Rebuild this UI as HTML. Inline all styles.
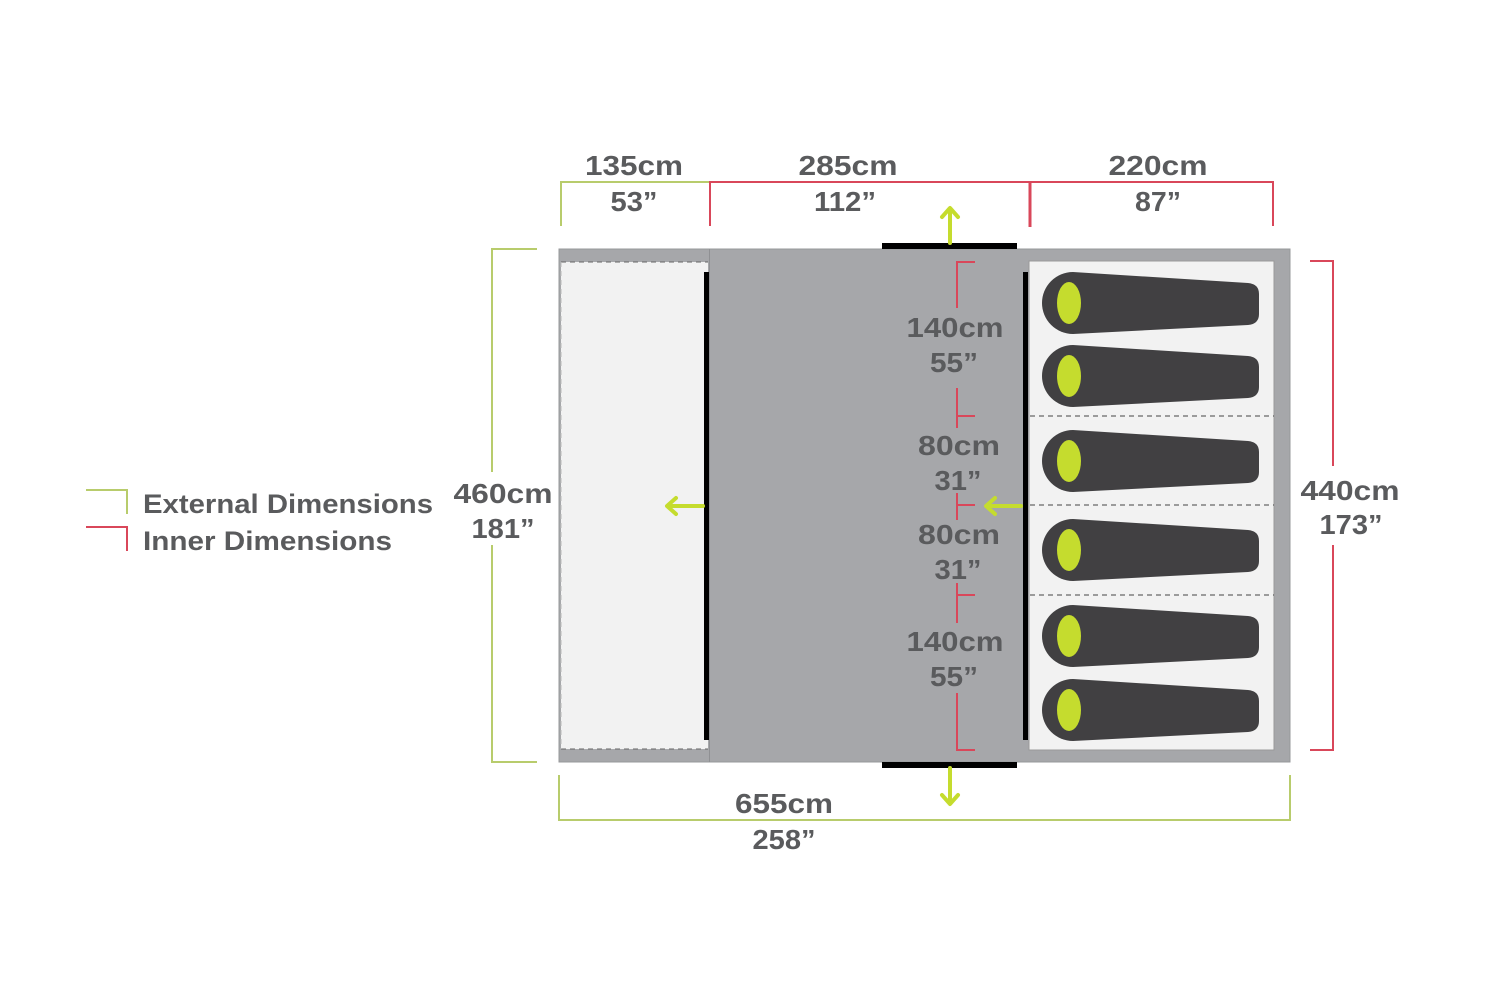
<!DOCTYPE html>
<html><head><meta charset="utf-8"><style>html,body{margin:0;padding:0;background:#fff}svg{display:block}</style></head>
<body>
<svg width="1500" height="1000" viewBox="0 0 1500 1000" xmlns="http://www.w3.org/2000/svg">
<defs>
<g id="bag">
<path d="M1073,272 L1248,283 Q1259,284 1259,294 V314 Q1259,324 1248,325 L1073,334 A31,31 0 0 1 1073,272 Z" fill="#414042"/>
<ellipse cx="1069" cy="303" rx="12" ry="21" fill="#c5dc2e"/>
</g>
</defs>
<rect width="1500" height="1000" fill="#fff"/>
<rect x="559" y="249" width="731" height="513" fill="#a6a7aa" stroke="#97989b" stroke-width="1"/>
<rect x="561" y="262" width="147" height="487" fill="#f2f2f2"/>
<line x1="561" y1="262" x2="708" y2="262" stroke="#666" stroke-dasharray="5,4" stroke-width="1"/>
<line x1="561" y1="749" x2="708" y2="749" stroke="#666" stroke-dasharray="5,4" stroke-width="1"/>
<line x1="561" y1="262" x2="561" y2="749" stroke="#bbb" stroke-dasharray="5,4" stroke-width="1"/>
<line x1="709.5" y1="249" x2="709.5" y2="762" stroke="#8f9093" stroke-width="1"/>
<rect x="1029" y="261" width="245" height="489" fill="#f2f2f2" stroke="#999" stroke-width="1"/>
<g stroke="#444" stroke-dasharray="5,4" stroke-width="1">
<line x1="1030" y1="416" x2="1274" y2="416"/>
<line x1="1030" y1="505" x2="1274" y2="505"/>
<line x1="1030" y1="595" x2="1274" y2="595"/>
</g>
<rect x="704" y="272" width="5" height="468" fill="#000"/>
<rect x="1023" y="272" width="5" height="468" fill="#000"/>
<rect x="882" y="243" width="135" height="6" fill="#000"/>
<rect x="882" y="762" width="135" height="6" fill="#000"/>
<use href="#bag"/>
<use href="#bag" transform="translate(0,73)"/>
<use href="#bag" transform="translate(0,158)"/>
<use href="#bag" transform="translate(0,247)"/>
<use href="#bag" transform="translate(0,333)"/>
<use href="#bag" transform="translate(0,407)"/>
<g stroke="#c5dc2e" stroke-width="4" fill="none" stroke-linecap="round" stroke-linejoin="round">
<line x1="950" y1="243" x2="950" y2="209"/><polyline points="942,217 950,208 958,217"/>
<line x1="950" y1="768" x2="950" y2="803"/><polyline points="942,795 950,804 958,795"/>
<line x1="703" y1="506" x2="668" y2="506"/><polyline points="676,498 667,506 676,514"/>
<line x1="1021" y1="506" x2="987" y2="506"/><polyline points="995,498 986,506 995,514"/>
</g>
<g stroke="#d9475a" stroke-width="2" fill="none">
<polyline points="975,262 957,262 957,308"/>
<polyline points="957,388 957,428"/><line x1="957" y1="416" x2="975" y2="416"/>
<polyline points="957,493 957,520"/><line x1="957" y1="505" x2="975" y2="505"/>
<polyline points="957,583 957,623"/><line x1="957" y1="595" x2="975" y2="595"/>
<polyline points="957,693 957,750 975,750"/>
</g>
<g stroke="#b8cc6c" stroke-width="2" fill="none">
<polyline points="561,226 561,182 710,182"/>
<polyline points="537,249 492,249 492,472"/>
<polyline points="492,545 492,762 537,762"/>
<polyline points="559,775 559,820 1290,820 1290,775"/>
<polyline points="86,490 127,490 127,514"/>
</g>
<g stroke="#d9475a" stroke-width="2" fill="none">
<polyline points="710,226 710,182 1273,182 1273,226"/>
<line x1="1030" y1="182" x2="1030" y2="227" stroke-width="3"/>
<polyline points="1310,261 1333,261 1333,466"/>
<polyline points="1333,545 1333,750 1310,750"/>
<polyline points="86,527 127,527 127,551"/>
</g>
<g font-family="Liberation Sans, sans-serif" font-weight="bold" font-size="28" fill="#5a5b5d" text-anchor="middle">
<text x="634" y="175" textLength="98" lengthAdjust="spacingAndGlyphs">135cm</text>
<text x="634" y="211" textLength="47" lengthAdjust="spacingAndGlyphs">53”</text>
<text x="848" y="175" textLength="99" lengthAdjust="spacingAndGlyphs">285cm</text>
<text x="845" y="211" textLength="62" lengthAdjust="spacingAndGlyphs">112”</text>
<text x="1158" y="175" textLength="99" lengthAdjust="spacingAndGlyphs">220cm</text>
<text x="1158" y="211" textLength="46" lengthAdjust="spacingAndGlyphs">87”</text>
<text x="503" y="503" textLength="99" lengthAdjust="spacingAndGlyphs">460cm</text>
<text x="503" y="538" textLength="63" lengthAdjust="spacingAndGlyphs">181”</text>
<text x="1350" y="500" textLength="99" lengthAdjust="spacingAndGlyphs">440cm</text>
<text x="1351" y="534" textLength="63" lengthAdjust="spacingAndGlyphs">173”</text>
<text x="784" y="813" textLength="98" lengthAdjust="spacingAndGlyphs">655cm</text>
<text x="784" y="849" textLength="63" lengthAdjust="spacingAndGlyphs">258”</text>
<text x="955" y="337" textLength="97" lengthAdjust="spacingAndGlyphs">140cm</text>
<text x="954" y="372" textLength="48" lengthAdjust="spacingAndGlyphs">55”</text>
<text x="959" y="455" textLength="82" lengthAdjust="spacingAndGlyphs">80cm</text>
<text x="958" y="490" textLength="47" lengthAdjust="spacingAndGlyphs">31”</text>
<text x="959" y="544" textLength="82" lengthAdjust="spacingAndGlyphs">80cm</text>
<text x="958" y="579" textLength="47" lengthAdjust="spacingAndGlyphs">31”</text>
<text x="955" y="651" textLength="97" lengthAdjust="spacingAndGlyphs">140cm</text>
<text x="954" y="686" textLength="48" lengthAdjust="spacingAndGlyphs">55”</text>
</g>
<g font-family="Liberation Sans, sans-serif" font-weight="bold" font-size="27" fill="#5a5b5d">
<text x="143" y="513" textLength="290" lengthAdjust="spacingAndGlyphs">External Dimensions</text>
<text x="143" y="550" textLength="249" lengthAdjust="spacingAndGlyphs">Inner Dimensions</text>
</g>
</svg>
</body></html>
